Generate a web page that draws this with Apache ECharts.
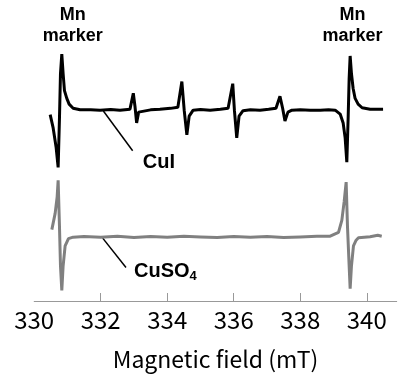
<!DOCTYPE html>
<html><head><meta charset="utf-8">
<script src="https://cdn.jsdelivr.net/npm/echarts@6/dist/echarts.min.js"></script>
<style>html,body{margin:0;padding:0;background:#fff}#c{width:398px;height:376px}</style>
</head><body><div id="c"></div>
<script>
// Axis
const xTicks = [332, 334, 336, 338, 340];
const xLabels = [330, 332, 334, 336, 338, 340];
const axisName = 'Magnetic field (mT)';

// CuI spectrum (field mT, signal a.u. relative to its baseline)
const cuiField = [330.48,330.57,330.66,330.72,330.76,330.79,330.83,330.87,330.91,330.98,331.05,331.17,331.38,331.7,331.98,332.3,332.58,332.88,332.98,333.03,333.08,333.14,333.18,333.5,333.78,334.1,334.32,334.44,334.51,334.59,334.66,334.78,335.0,335.29,335.6,335.83,335.97,336.02,336.09,336.16,336.28,336.5,336.79,337.05,337.27,337.39,337.47,337.54,337.63,337.75,338.0,338.3,338.6,338.85,339.05,339.2,339.29,339.35,339.4,339.44,339.47,339.5,339.54,339.59,339.65,339.74,339.86,340.1,340.3,340.49];
const cuiSignal = [-1.5,-5.9,-12.4,-19.0,-2.6,12.1,18.6,12.1,6.5,3.9,2.0,0.65,0.16,0.1,0,0.2,0,0.33,5.6,1.3,-4.25,-0.65,0,0.1,0.33,0.6,1.0,9.5,0,-8.2,-2.0,0,0.2,0,0.3,0.65,8.8,0,-9.2,-2.0,-0.16,0.1,0,0.3,0.65,4.6,0.65,-3.6,-0.65,0,0.1,0,0,0.1,0,-1.3,-4.25,-9.2,-17.3,-2.6,10.5,18.0,12.1,7.2,3.9,2.0,0.8,0.33,0.3,0.33];
const cuiOffset = 63.4;

// CuSO4 spectrum
const cuso4Field = [330.53,330.63,330.69,330.72,330.76,330.79,330.83,330.87,330.93,331.03,331.17,331.5,332.0,332.5,333.0,333.5,334.0,334.5,335.0,335.5,336.0,336.5,337.0,337.5,338.0,338.5,338.9,339.15,339.25,339.32,339.38,339.42,339.47,339.5,339.54,339.6,339.68,339.75,340.1,340.33,340.45];
const cuso4Signal = [2.5,7.9,13.4,18.9,3.6,-9.5,-17.7,-9.5,-2.9,-0.5,0,0.2,0,0.3,-0.1,0.2,0,0.3,0.1,-0.1,0.2,0,0.2,-0.1,0.1,0.3,0.33,1.6,5.6,11.8,18.3,3.6,-9.5,-17.1,-9.5,-2.9,-1.0,-0.2,0.16,0.65,0.33];
const cuso4Offset = 21.2;

// Annotation anchors (field, y a.u.)
const mnLabels = [[331.16, 91.5], [339.57, 91.5]];
const cuiLabel = [333.75, 45.9];
const cuiLeader = [[332.08, 63.1], [332.96, 49.9]];
const cuso4Label = [333.0, 9.7];
const cuso4Leader = [[332.06, 20.9], [332.76, 11.1]];

const chart = echarts.init(document.getElementById('c'));
const mk = (f, s, o) => f.map((x, i) => [x, s[i] + o]);
chart.setOption({
  animation: false,
  grid: {left: 34.2, right: 1.3, top: 0, bottom: 70.3},
  xAxis: {
    type: 'value', min: 330, max: 340.9,
    name: axisName, nameLocation: 'middle', nameGap: 47,
    nameTextStyle: {fontFamily: 'Noto Sans CJK JP', fontSize: 23, color: '#000'},
    axisLine: {show: true, lineStyle: {color: '#999', width: 1}},
    axisTick: {show: true, inside: true, length: 8, customValues: xTicks, lineStyle: {color: '#999'}},
    axisLabel: {customValues: xLabels, margin: 7, fontFamily: 'Noto Sans CJK JP', fontSize: 24, color: '#000'},
    splitLine: {show: false}
  },
  yAxis: {type: 'value', min: 0, max: 100, show: false, splitLine: {show: false}},
  series: [
    {type: 'line', data: mk(cuiField, cuiSignal, cuiOffset), showSymbol: false, lineStyle: {color: '#000', width: 3}},
    {type: 'line', data: mk(cuso4Field, cuso4Signal, cuso4Offset), showSymbol: false, lineStyle: {color: '#808080', width: 3}}
  ]
});
const px = p => chart.convertToPixel({gridIndex: 0}, p);
const g = [];
mnLabels.forEach(p => {
  const q = px(p);
  g.push({type: 'text', x: q[0], y: q[1], style: {text: 'Mn\nmarker', fontFamily: 'Liberation Sans', fontWeight: 'bold', fontSize: 18, lineHeight: 21, align: 'center', verticalAlign: 'middle', fill: '#000'}});
});
let q = px(cuiLabel);
g.push({type: 'text', x: q[0], y: q[1], style: {text: 'CuI', fontFamily: 'Liberation Sans', fontWeight: 'bold', fontSize: 20, align: 'center', verticalAlign: 'middle', fill: '#000'}});
[cuiLeader, cuso4Leader].forEach(L => {
  const a = px(L[0]), b = px(L[1]);
  g.push({type: 'line', shape: {x1: a[0], y1: a[1], x2: b[0], y2: b[1]}, style: {stroke: '#000', lineWidth: 1.5}});
});
q = px(cuso4Label);
g.push({type: 'text', x: q[0], y: q[1], style: {text: '{a|CuSO}{b|4}', align: 'left', verticalAlign: 'middle',
  rich: {a: {fontFamily: 'Liberation Sans', fontWeight: 'bold', fontSize: 20, fill: '#000'}, b: {fontFamily: 'Liberation Sans', fontWeight: 'bold', fontSize: 13, fill: '#000', padding: [10, 0, 0, 0]}}}});
chart.setOption({graphic: g});
</script></body></html>
